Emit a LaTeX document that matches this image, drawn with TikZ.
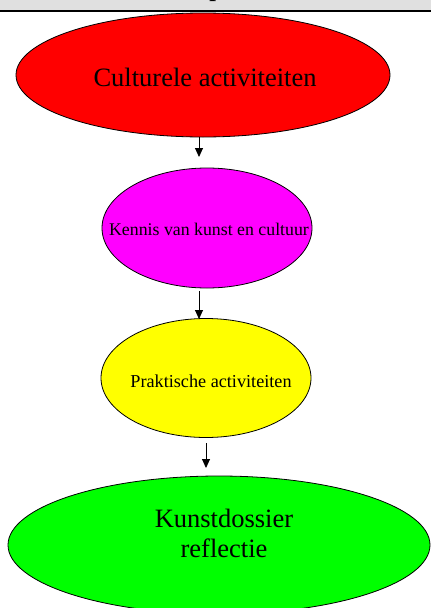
\documentclass[tikz,border=0pt]{standalone}
\usepackage{fontspec}
\setmainfont{Liberation Serif}
\usetikzlibrary{shapes.geometric,arrows.meta}
\definecolor{bandgray}{RGB}{224,224,224}
\definecolor{topred}{RGB}{255,0,0}
\definecolor{pinkfill}{RGB}{255,0,255}
\definecolor{yellowfill}{RGB}{255,255,0}
\definecolor{greenfill}{RGB}{0,255,0}
\tikzset{
  stage/.style={ellipse, draw=black, line width=0.8pt, inner sep=0pt},
  label/.style={inner sep=0pt, align=center},
  flow/.style={-{Triangle[length=9pt,width=8pt]}, line width=0.9pt},
}
\begin{document}
\begin{tikzpicture}[x=1pt,y=-1pt]
\useasboundingbox (0,0) rectangle (431,608);
\begin{scope}
  \clip (0,0) rectangle (431,608);
  % header band with its rule
  \fill[bandgray] (0,-5) rectangle (431,10);
  \node[anchor=base, font=\bfseries\fontsize{24}{28}\selectfont, inner sep=0pt] (headglyph) at (216,-3.5) {p};
  \fill[white] (0,10) rectangle (431,608);
  \draw[line width=2.6pt] (0,10.8) -- (431,10.8);

  % the four stages
  \node[stage, fill=topred, minimum width=374pt, minimum height=124pt] (cult) at (203,75) {};
  \node[label, font=\fontsize{26.5}{30}\selectfont] (culttext) at (205,77) {Culturele activiteiten};
  \node[stage, fill=pinkfill, minimum width=210pt, minimum height=120pt] (kennis) at (207,228) {};
  \node[label, font=\fontsize{17.8}{20}\selectfont] (kennistext) at (209,229) {Kennis van kunst en cultuur};
  \node[stage, fill=yellowfill, minimum width=210pt, minimum height=119pt] (prak) at (206,378) {};
  \node[label, font=\fontsize{18.2}{20}\selectfont] (praktext) at (211,381) {Praktische activiteiten};
  \node[stage, fill=greenfill, minimum width=422pt, minimum height=138pt] (dossier) at (219,545) {};
  \node[label, font=\fontsize{26.5}{30}\selectfont] (dossiertext) at (224,533)
        {Kunstdossier\\reflectie};

  % connectors
  \coordinate (a1s) at (199,137);
  \coordinate (a1e) at (199,157);
  \coordinate (a2s) at (199,291);
  \coordinate (a2e) at (199,319);
  \coordinate (a3s) at (206,443);
  \coordinate (a3e) at (206,468);
  \draw[flow] (a1s) -- (a1e);
  \draw[flow] (a2s) -- (a2e);
  \draw[flow] (a3s) -- (a3e);
\end{scope}
\end{tikzpicture}
\end{document}
